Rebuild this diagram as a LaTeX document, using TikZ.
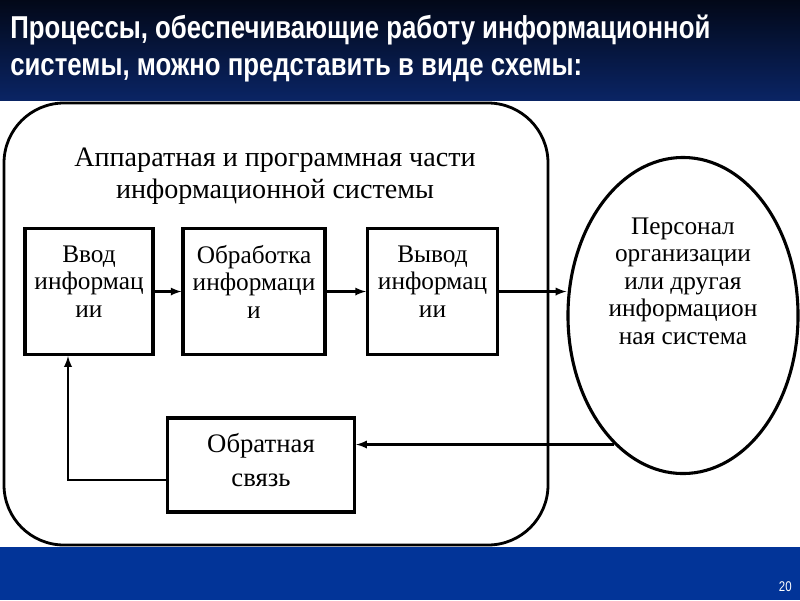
\documentclass[tikz,border=0pt]{standalone}
\usepackage{fontspec}
\setmainfont{Liberation Serif}
\newfontfamily\headfont[FakeStretch=0.815]{Liberation Sans}
\usetikzlibrary{shapes.geometric}

\definecolor{headtop}{RGB}{2,8,24}
\definecolor{headbot}{RGB}{10,36,100}
\definecolor{footblue}{RGB}{2,52,152}

\begin{document}
\begin{tikzpicture}[x = 0.025cm, y = -0.025cm,
  blok/.style = {draw, line width = 2.2pt, minimum height = 3.15cm, align = center,
    inner sep = 0pt, font = \fontsize{18}{19.6}\selectfont},
  strelka/.style = {line width = 1.6pt, ->, >=latex}]
%\draw[very thin, color = gray](0, 0) grid[step = 50] (800, 600);
\useasboundingbox (0, 0) rectangle (800, 600);
\shade [top color = headtop, bottom color = headbot] (0, 0) rectangle (800, 100);
\fill [footblue] (0, 547) rectangle (800, 600);
\node [anchor = base west, text = white, inner sep = 0pt,
  font = \headfont\bfseries\fontsize{22.5}{26}\selectfont] (zag1) at (10, 38)
  {Процессы, обеспечивающие работу информационной};
\node [anchor = base west, text = white, inner sep = 0pt,
  font = \headfont\bfseries\fontsize{22.5}{26}\selectfont] (zag2) at (10, 75)
  {системы, можно представить в виде схемы:};
\node [anchor = base east, text = white, inner sep = 0pt,
  font = \headfont\fontsize{10}{12}\selectfont] (nomer) at (792, 591) {20};

\draw [line width = 2pt, rounded corners = 1.5cm] (4, 103) rectangle (548, 545);
\node [align = center, font = \fontsize{20}{22.8}\selectfont] (apparat) at (275, 176)
  {Аппаратная и программная части\\информационной системы};

\node [blok, minimum width = 3.2cm, text depth = 0.5cm] (vvod) at (89, 291.5) {Ввод\\информац\\ии};
\node [blok, minimum width = 3.55cm, text depth = 0.5cm] (obrab) at (254, 291.5) {Обработка\\информаци\\и};
\node [blok, minimum width = 3.25cm, text depth = 0.5cm] (vyvod) at (432.5, 291.5) {Вывод\\информац\\ии};

\node [draw, ellipse, line width = 2.2pt, minimum width = 5.75cm, minimum height = 7.9cm] (pers) at (683, 315.5) {};
\node [align = center, font = \fontsize{18}{19.6}\selectfont] (perstext) at (683, 281)
  {Персонал\\организации\\или другая\\информацион\\ная система};

\node [blok, minimum width = 4.68cm, minimum height = 2.35cm, text depth = 0.25cm,
  font = \fontsize{19}{24.5}\selectfont] (obr) at (261, 465) {Обратная\\связь};

\coordinate (ugol) at (68, 480);
\draw [strelka] (vvod) -- (obrab);
\draw [strelka] (obrab) -- (vyvod);
\draw [strelka] (vyvod.east) -- (vyvod.east -| pers.west);
\draw [strelka] (pers.242) -- (obr.east |- pers.242);
\draw [strelka] (obr.west |- ugol) -- (ugol) -- (ugol |- vvod.south);
\end{tikzpicture}
\end{document}
